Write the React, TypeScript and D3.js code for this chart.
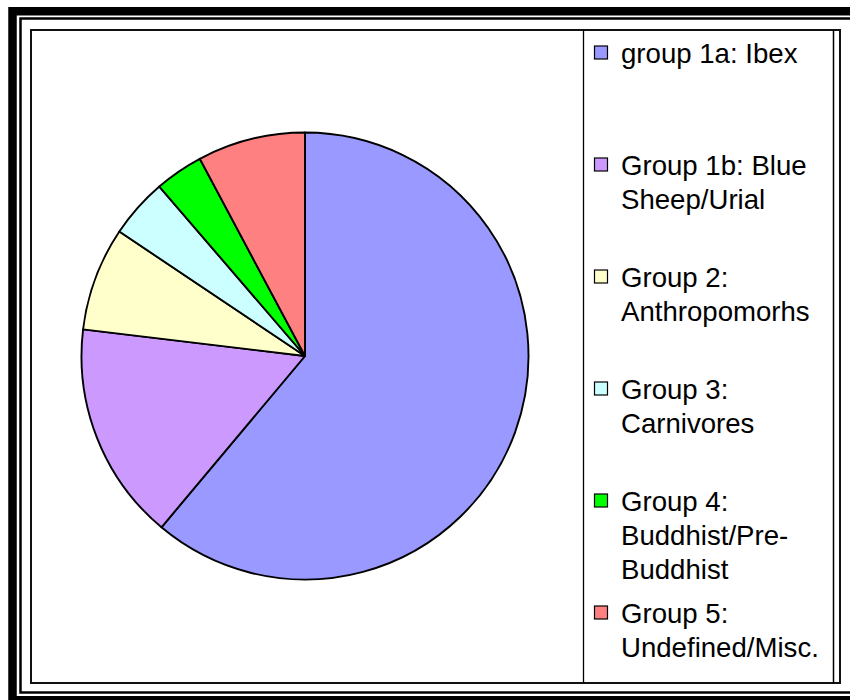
import React from "react";
import * as d3 from "d3";

const categories = [
  "group 1a: Ibex",
  "Group 1b: Blue Sheep/Urial",
  "Group 2: Anthropomorhs",
  "Group 3: Carnivores",
  "Group 4: Buddhist/Pre-Buddhist",
  "Group 5: Undefined/Misc.",
];
const legendLines = [
  ["group 1a: Ibex"],
  ["Group 1b: Blue", "Sheep/Urial"],
  ["Group 2:", "Anthropomorhs"],
  ["Group 3:", "Carnivores"],
  ["Group 4:", "Buddhist/Pre-", "Buddhist"],
  ["Group 5:", "Undefined/Misc."],
];
const values = [611, 158, 75, 43, 35, 78];
const colors = ["#9999FF", "#CC99FF", "#FFFFCC", "#CCFFFF", "#00FF00", "#FF8080"];

export default function App() {
  const cx = 305;
  const cy = 356;
  const r = 223.5;
  const pie = d3
    .pie<number>()
    .sort(null)
    .value((d) => d)
    .startAngle(0)
    .endAngle(2 * Math.PI);
  const arcs = pie(values);
  const arc = d3.arc<d3.PieArcDatum<number>>().innerRadius(0).outerRadius(r);

  const legendY = d3.scaleLinear().domain([0, 5]).range([63, 623]);

  return (
    <svg
      width={850}
      height={700}
      style={{ position: "fixed", left: 0, top: 0, background: "#fff" }}
      fontFamily="'Liberation Sans', Arial, sans-serif"
    >
      <rect x={0} y={0} width={850} height={700} fill="#fff" />
      <rect x={12.5} y={11.25} width={900} height={689} fill="none" stroke="#000" strokeWidth={8.5} />
      <rect x={20.5} y={18.5} width={900} height={674} fill="none" stroke="#000" strokeWidth={2.5} />
      <rect x={31} y={30} width={809} height={653} fill="#fff" stroke="#111" strokeWidth={2} />
      <line x1={583.5} x2={583.5} y1={30} y2={683} stroke="#000" strokeWidth={1.3} />
      <line x1={833.5} x2={833.5} y1={30} y2={683} stroke="#000" strokeWidth={1.5} />

      <g transform={`translate(${cx},${cy})`}>
        {arcs.map((a, i) => (
          <path key={categories[i]} d={arc(a) || ""} fill={colors[i]} stroke="#000" strokeWidth={1.9} strokeLinejoin="round" />
        ))}
      </g>

      {legendLines.map((lines, i) => {
        const by = legendY(i);
        return (
          <g key={categories[i]}>
            <rect x={594.5} y={by - 17} width={13} height={13} fill={colors[i]} stroke="#000" strokeWidth={1.2} />
            {lines.map((t, j) => (
              <text key={j} x={621} y={by + j * 34} fontSize={27.6} fill="#000">
                {t}
              </text>
            ))}
          </g>
        );
      })}
    </svg>
  );
}
